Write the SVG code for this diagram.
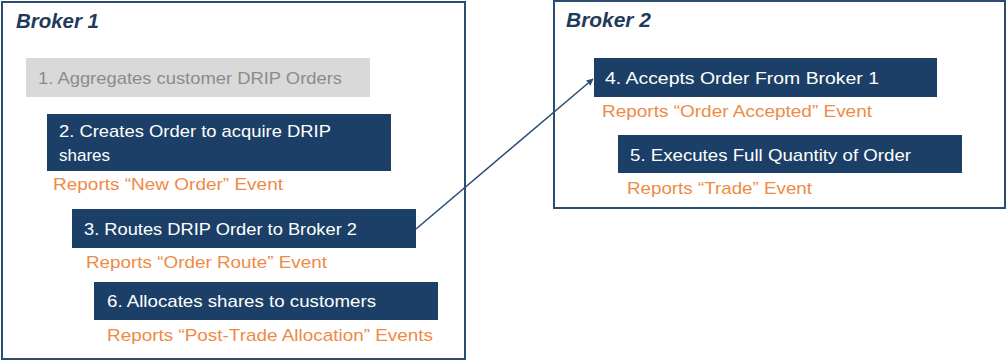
<svg xmlns="http://www.w3.org/2000/svg" width="1008" height="362" viewBox="0 0 1008 362">
<defs>
<style>
.frame{fill:#fff;stroke:#2c4d70;stroke-width:2}
.title{font-family:"Liberation Sans",Arial,sans-serif;font-weight:bold;font-style:italic;font-size:20px;fill:#1f3b5c}
.box{fill:#1b3f66}
.gbox{fill:#d9d9d9}
.t{font-family:"Liberation Sans",Arial,sans-serif;font-size:17px;fill:#ffffff}
.g{font-family:"Liberation Sans",Arial,sans-serif;font-size:17px;fill:#8c8c8c}
.o{font-family:"Liberation Sans",Arial,sans-serif;font-size:17px;fill:#ef8a45}
.conn{stroke:#2c4d70;stroke-width:1.5;fill:none}
</style>
<marker id="ah" viewBox="0 0 10 10" refX="9" refY="5" markerWidth="7" markerHeight="7" orient="auto" markerUnits="userSpaceOnUse">
<path d="M0,0 L10,5 L0,10 z" fill="#2c4d70"/>
</marker>
</defs>
<g id="broker1">
<rect class="frame" x="2" y="2" width="463" height="357"/>
<text class="title" x="16" y="28" textLength="83" lengthAdjust="spacingAndGlyphs">Broker 1</text>
</g>
<g id="broker2">
<rect class="frame" x="554" y="1" width="451" height="207"/>
<text class="title" x="566" y="27" textLength="85" lengthAdjust="spacingAndGlyphs">Broker 2</text>
</g>
<g id="step1">
<rect class="gbox" x="26" y="58" width="344" height="39"/>
<text class="g" x="38" y="84" textLength="304" lengthAdjust="spacingAndGlyphs">1. Aggregates customer DRIP Orders</text>
</g>
<g id="step2">
<rect class="box" x="47" y="114" width="344" height="57"/>
<text class="t" x="59" y="137" textLength="272" lengthAdjust="spacingAndGlyphs">2. Creates Order to acquire DRIP</text>
<text class="t" x="59" y="161">shares</text>
<text class="o" x="53" y="190" textLength="230" lengthAdjust="spacingAndGlyphs">Reports “New Order” Event</text>
</g>
<g id="step3">
<rect class="box" x="72" y="209" width="344" height="39"/>
<text class="t" x="84" y="235" textLength="273" lengthAdjust="spacingAndGlyphs">3. Routes DRIP Order to Broker 2</text>
<text class="o" x="86" y="268" textLength="241" lengthAdjust="spacingAndGlyphs">Reports “Order Route” Event</text>
</g>
<g id="step6">
<rect class="box" x="94" y="282" width="344" height="38"/>
<text class="t" x="107" y="307" textLength="269" lengthAdjust="spacingAndGlyphs">6. Allocates shares to customers</text>
<text class="o" x="107" y="341" textLength="326" lengthAdjust="spacingAndGlyphs">Reports “Post-Trade Allocation” Events</text>
</g>
<g id="step4">
<rect class="box" x="594" y="58" width="343" height="39"/>
<text class="t" x="605" y="84" textLength="274" lengthAdjust="spacingAndGlyphs">4. Accepts Order From Broker 1</text>
<text class="o" x="602" y="117" textLength="270" lengthAdjust="spacingAndGlyphs">Reports “Order Accepted” Event</text>
</g>
<g id="step5">
<rect class="box" x="618" y="135" width="344" height="38"/>
<text class="t" x="630" y="161" textLength="281" lengthAdjust="spacingAndGlyphs">5. Executes Full Quantity of Order</text>
<text class="o" x="627" y="194" textLength="185" lengthAdjust="spacingAndGlyphs">Reports “Trade” Event</text>
</g>
<g id="connectors">
<line class="conn" x1="416" y1="229" x2="593" y2="79" marker-end="url(#ah)"/>
</g>
</svg>
